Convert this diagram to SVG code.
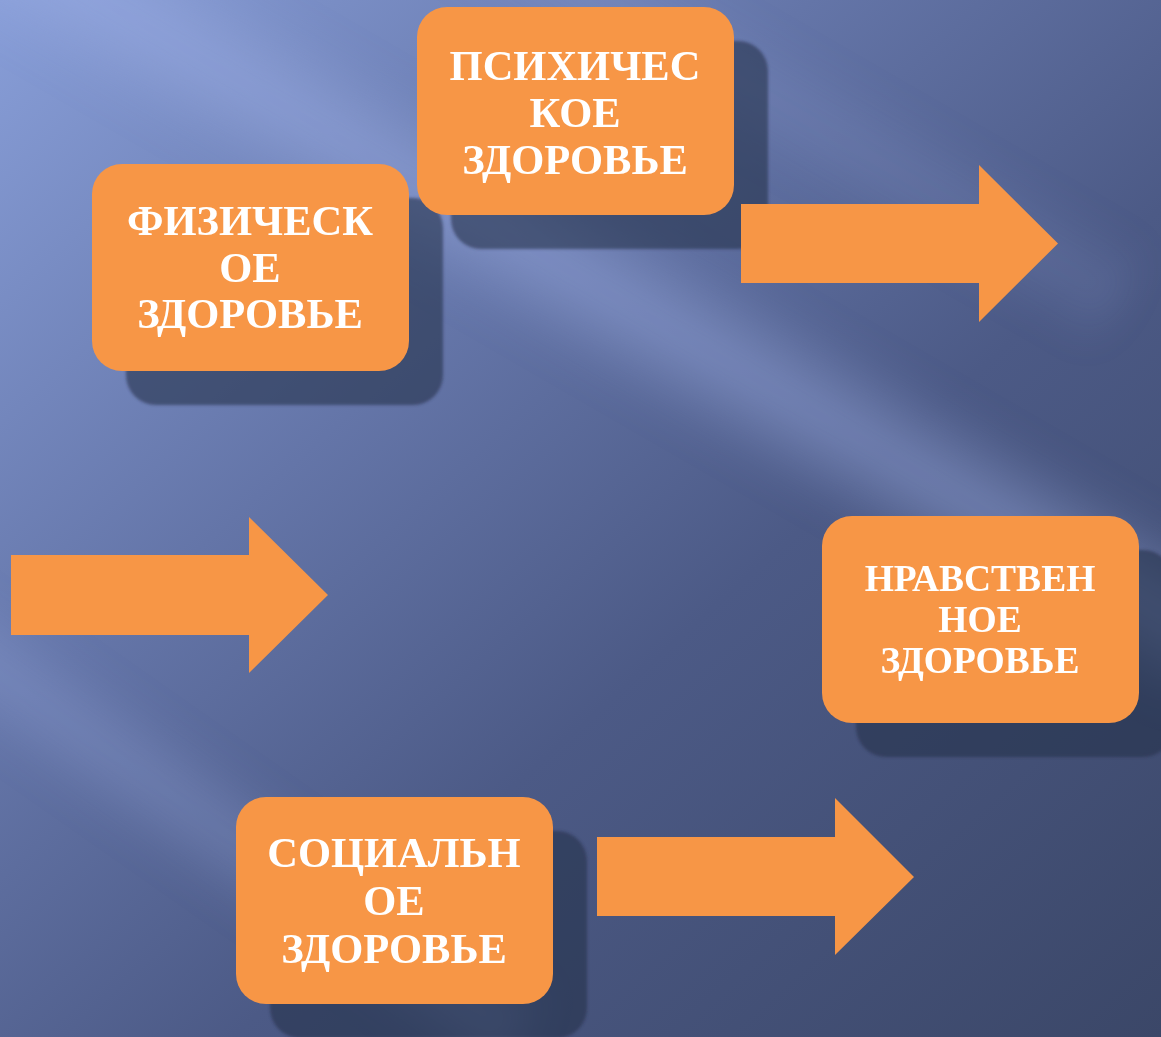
<svg xmlns="http://www.w3.org/2000/svg" width="1161" height="1037" viewBox="0 0 1161 1037">
<defs>
<linearGradient id="bg" x1="0" y1="0" x2="1" y2="1">
<stop offset="0" stop-color="#889ed8"/>
<stop offset="0.35" stop-color="#6475a8"/>
<stop offset="0.6" stop-color="#4c5a86"/>
<stop offset="1" stop-color="#3b4768"/>
</linearGradient>
<linearGradient id="streak" x1="0" y1="0" x2="0" y2="1">
<stop offset="0" stop-color="#9fb0e6" stop-opacity="0"/>
<stop offset="0.5" stop-color="#9fb0e6" stop-opacity="0.45"/>
<stop offset="1" stop-color="#9fb0e6" stop-opacity="0"/>
</linearGradient>
<filter id="blur" x="-20%" y="-50%" width="140%" height="200%"><feGaussianBlur stdDeviation="18"/></filter>
<filter id="sblur" x="-10%" y="-10%" width="120%" height="120%"><feGaussianBlur stdDeviation="1.5"/></filter>
<style>
.box{fill:#f79646;}
.shadow{fill:#27304c;opacity:0.6;}
.arrow{fill:#f79646;}
.t{font-family:"Liberation Serif","Times New Roman",serif;font-weight:bold;fill:#ffffff;text-anchor:middle;}
</style>
</defs>
<rect width="1161" height="1037" fill="url(#bg)"/>
<g filter="url(#blur)">
<rect x="-200" y="200" width="1500" height="160" fill="url(#streak)" transform="rotate(30 580 300)"/>
<rect x="-300" y="720" width="900" height="120" fill="url(#streak)" transform="rotate(35 150 780)" opacity="0.6"/>
<rect x="300" y="-60" width="900" height="120" fill="url(#streak)" transform="rotate(30 600 0)" opacity="0.35"/>
</g>
<g id="node-fiz">
<rect class="shadow" x="126" y="198" width="317" height="207" rx="30" filter="url(#sblur)"/>
<rect class="box" x="92" y="164" width="317" height="207" rx="30"/>
<text class="t" font-size="42.5"><tspan x="250" y="235">ФИЗИЧЕСК</tspan><tspan x="250" y="282">ОЕ</tspan><tspan x="250" y="328">ЗДОРОВЬЕ</tspan></text>
</g>
<g id="node-psy">
<rect class="shadow" x="451" y="41" width="317" height="208" rx="30" filter="url(#sblur)"/>
<rect class="box" x="417" y="7" width="317" height="208" rx="30"/>
<text class="t" font-size="42.5"><tspan x="575" y="80">ПСИХИЧЕС</tspan><tspan x="575" y="127">КОЕ</tspan><tspan x="575" y="174">ЗДОРОВЬЕ</tspan></text>
</g>
<g id="node-nrav">
<rect class="shadow" x="856" y="550" width="317" height="207" rx="30" filter="url(#sblur)"/>
<rect class="box" x="822" y="516" width="317" height="207" rx="30"/>
<text class="t" font-size="37.5"><tspan x="980" y="591">НРАВСТВЕН</tspan><tspan x="980" y="632">НОЕ</tspan><tspan x="980" y="673">ЗДОРОВЬЕ</tspan></text>
</g>
<g id="node-soc">
<rect class="shadow" x="270" y="831" width="317" height="207" rx="30" filter="url(#sblur)"/>
<rect class="box" x="236" y="797" width="317" height="207" rx="30"/>
<text class="t" font-size="42.5"><tspan x="394" y="867">СОЦИАЛЬН</tspan><tspan x="394" y="915">ОЕ</tspan><tspan x="394" y="963">ЗДОРОВЬЕ</tspan></text>
</g>
<g id="connectors">
<polygon class="arrow" points="741,204 979,204 979,165 1058,243.5 979,322 979,283 741,283"/>
<polygon class="arrow" points="11,555 249,555 249,517 328,595 249,673 249,635 11,635"/>
<polygon class="arrow" points="597,837 835,837 835,798 914,877 835,955 835,916 597,916"/>
</g>
</svg>
